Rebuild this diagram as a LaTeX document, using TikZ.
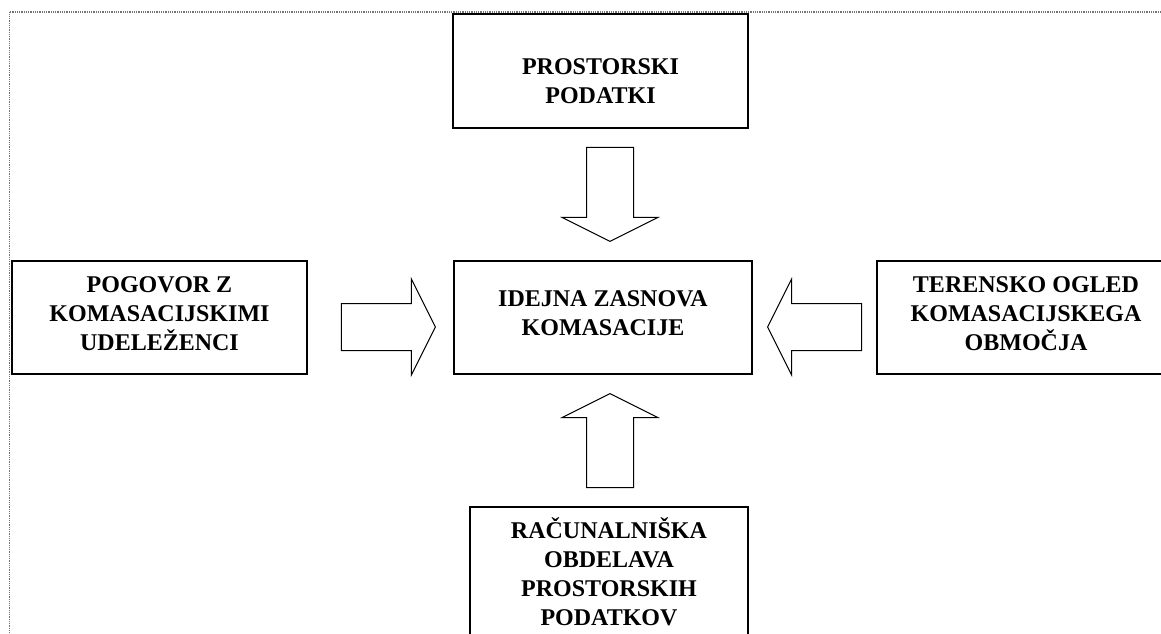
\documentclass[tikz,border=0pt]{standalone}
\usepackage{fontspec}
\setmainfont{Liberation Serif}
\usetikzlibrary{calc}
\begin{document}
\begin{tikzpicture}[x=1pt,y=-1pt,
  box/.style={draw, line width=1.3pt, inner sep=0pt, align=center,
    font=\bfseries\fontsize{24}{29}\selectfont, text depth=9pt},
  blockarrow/.pic={\draw[line width=1pt, line join=miter]
    (0,0) -- (-24,-48) -- (-24,-23.5) -- (-94,-23.5) -- (-94,23.5)
    -- (-24,23.5) -- (-24,48) -- cycle;},
  frame/.style={draw=black!55, line width=1.3pt, dash pattern=on 1pt off 0.8pt}]
\useasboundingbox (0,0) rectangle (1161,634);
\clip (0,0) rectangle (1161,634);
\fill[white] (0,0) rectangle (1161,634);
\draw[frame] (1161,12) -- (9.5,12) -- (9.5,634);

\node[box, minimum width=295pt, minimum height=114pt, text height=64pt, text depth=0pt]
  (top) at (600.5,71) {PROSTORSKI\\PODATKI};
\node[box, minimum width=298pt, minimum height=113pt, text height=45pt]
  (idea) at (603,317.5) {IDEJNA ZASNOVA\\KOMASACIJE};
\node[box, minimum width=295pt, minimum height=113pt, text height=74pt]
  (left) at (159.5,317.5) {POGOVOR Z\\KOMASACIJSKIMI\\UDELEŽENCI};
\node[box, minimum width=298pt, minimum height=113pt, text height=74pt]
  (right) at (1026,317.5) {TERENSKO OGLED\\KOMASACIJSKEGA\\OBMOČJA};
\node[box, minimum width=278pt, minimum height=133pt, text height=103pt, text depth=0pt]
  (bottom) at (609,573.5) {RAČUNALNIŠKA\\OBDELAVA\\PROSTORSKIH\\PODATKOV};

\coordinate (tipL) at ($(idea.west)+(-18,9.5)$);
\coordinate (tipR) at ($(idea.east)+(15,9.5)$);
\coordinate (tipT) at ($(idea.north)+(7,-19)$);
\coordinate (tipB) at ($(idea.south)+(7,19)$);
\pic at (tipL) {blockarrow};
\pic[rotate=180] at (tipR) {blockarrow};
\pic[rotate=-90] at (tipT) {blockarrow};
\pic[rotate=90] at (tipB) {blockarrow};
\end{tikzpicture}
\end{document}
